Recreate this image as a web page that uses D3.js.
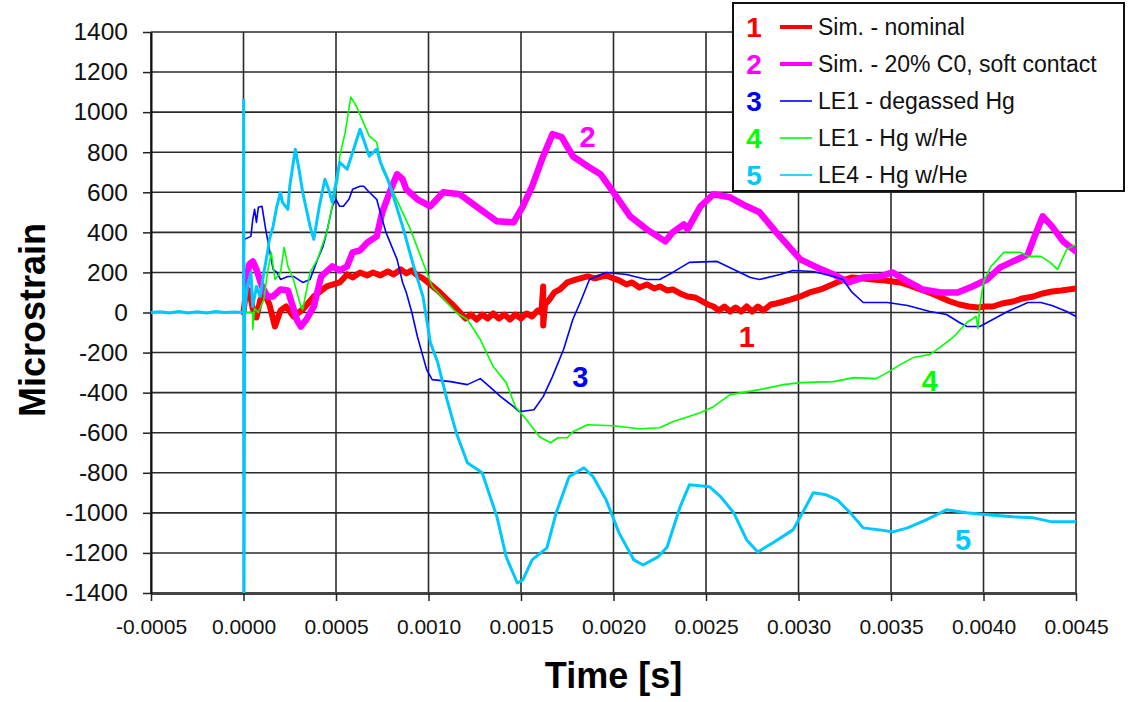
<!DOCTYPE html>
<html>
<head>
<meta charset="utf-8">
<script src="https://cdnjs.cloudflare.com/ajax/libs/d3/7.8.5/d3.min.js"></script>
<style>
  body { margin: 0; background: #fff; }
  text { font-family: "Liberation Sans", Arial, sans-serif; }
</style>
</head>
<body>
<script>
// time in seconds, strain in microstrain
const xTicks = [-0.0005, 0, 0.0005, 0.001, 0.0015, 0.002, 0.0025, 0.003, 0.0035, 0.004, 0.0045];
const yTicks = [-1400, -1200, -1000, -800, -600, -400, -200, 0, 200, 400, 600, 800, 1000, 1200, 1400];

const seriesNames = ["Sim. - nominal", "Sim. - 20% C0, soft contact", "LE1 - degassed Hg", "LE1 - Hg w/He", "LE4 - Hg w/He"];

const simNominal = [[0,0],[0.00001,80],[0.00003,110],[0.00005,20],[0.00007,-25],[0.00009,60],[0.00011,100],[0.00014,40],[0.00017,-70],[0.00020,10],[0.00023,30],[0.00027,-20],[0.00032,15],[0.00038,80],[0.00045,130],[0.00052,150],[0.00056,190],[0.00059,175],[0.00063,200],[0.00067,185],[0.00070,200],[0.00074,185],[0.00078,205],[0.00081,190],[0.00085,215],[0.00088,195],[0.00091,210],[0.00094,185],[0.00097,170],[0.00101,140],[0.00105,110],[0.00110,65],[0.00114,30],[0.00117,0],[0.00120,-30],[0.00123,-10],[0.00126,-35],[0.00129,-10],[0.00132,-30],[0.00135,-5],[0.00138,-30],[0.00141,-10],[0.00144,-35],[0.00147,-10],[0.00150,-30],[0.00153,-5],[0.00156,-20],[0.00159,10],[0.00161,0],[0.00162,130],[0.00162,-65],[0.00163,40],[0.00165,60],[0.00168,100],[0.00171,115],[0.00175,150],[0.00180,165],[0.00186,180],[0.00190,170],[0.00196,185],[0.00200,170],[0.00203,160],[0.00207,140],[0.00210,150],[0.00214,125],[0.00218,140],[0.00222,120],[0.00225,130],[0.00229,110],[0.00232,115],[0.00236,95],[0.00240,80],[0.00244,75],[0.00247,60],[0.00251,40],[0.00254,30],[0.00257,10],[0.00260,30],[0.00263,5],[0.00266,25],[0.00269,5],[0.00272,30],[0.00275,5],[0.00278,30],[0.00281,10],[0.00285,40],[0.00288,45],[0.00292,55],[0.00296,65],[0.00301,80],[0.00306,100],[0.00312,115],[0.00317,135],[0.00322,155],[0.00329,175],[0.00335,170],[0.00340,165],[0.00347,160],[0.00355,150],[0.00360,135],[0.00366,115],[0.00372,95],[0.00377,75],[0.00382,55],[0.00387,40],[0.00392,30],[0.00397,25],[0.00401,30],[0.00405,30],[0.00410,45],[0.00416,55],[0.00421,70],[0.00427,80],[0.00432,95],[0.00437,105],[0.00442,110],[0.00450,120]];

const simSoft = [[0.00001,100],[0.00003,240],[0.00005,255],[0.00007,215],[0.00010,130],[0.00013,80],[0.00016,80],[0.00020,115],[0.00024,110],[0.00026,50],[0.00029,-40],[0.00031,-70],[0.00034,-35],[0.00038,30],[0.00042,180],[0.00048,230],[0.00052,210],[0.00056,230],[0.00059,300],[0.00063,310],[0.00067,350],[0.00072,380],[0.00075,500],[0.00079,600],[0.00083,690],[0.00086,665],[0.00088,615],[0.00094,565],[0.00101,530],[0.00108,600],[0.00117,590],[0.00128,515],[0.00137,455],[0.00146,450],[0.00151,530],[0.00156,630],[0.00162,780],[0.00167,890],[0.00172,875],[0.00178,780],[0.00186,730],[0.00193,690],[0.00200,600],[0.00209,480],[0.00218,415],[0.00228,355],[0.00232,400],[0.00238,440],[0.00240,415],[0.00247,530],[0.00254,590],[0.00263,575],[0.00272,530],[0.00279,500],[0.00288,400],[0.00301,265],[0.00310,225],[0.00319,190],[0.00327,150],[0.00335,175],[0.00344,180],[0.00351,200],[0.00359,155],[0.00367,115],[0.00377,100],[0.00386,100],[0.00394,130],[0.00402,165],[0.00409,225],[0.00416,255],[0.00424,290],[0.00427,365],[0.00432,480],[0.00437,430],[0.00443,355],[0.00450,305]];

const le1Degassed = [[0,0],[0.000005,365],[0.00004,380],[0.00005,465],[0.00006,515],[0.00007,450],[0.00008,525],[0.00010,530],[0.00012,415],[0.00013,365],[0.00016,215],[0.00018,200],[0.00020,165],[0.00024,180],[0.00027,180],[0.00032,150],[0.00036,165],[0.00040,265],[0.00043,330],[0.00045,400],[0.00048,530],[0.00050,565],[0.00052,530],[0.00054,530],[0.00057,565],[0.00059,615],[0.00063,630],[0.00065,630],[0.00068,600],[0.00072,565],[0.00073,530],[0.00077,400],[0.00083,265],[0.00086,150],[0.00088,100],[0.00091,0],[0.00094,-120],[0.00099,-285],[0.00102,-335],[0.00112,-345],[0.00121,-360],[0.00128,-330],[0.00133,-370],[0.00139,-420],[0.00146,-470],[0.00149,-495],[0.00157,-485],[0.00162,-420],[0.00167,-320],[0.00173,-185],[0.00178,-35],[0.00182,50],[0.00187,165],[0.00196,200],[0.00207,190],[0.00218,165],[0.00225,165],[0.00232,200],[0.00241,250],[0.00256,255],[0.00265,215],[0.00274,175],[0.00279,165],[0.00290,190],[0.00297,210],[0.00308,205],[0.00319,180],[0.00324,165],[0.00329,100],[0.00335,50],[0.00348,50],[0.00359,35],[0.00371,5],[0.00380,-10],[0.00387,-50],[0.00391,-70],[0.00398,-70],[0.00405,-35],[0.00413,5],[0.00424,50],[0.00431,50],[0.00437,35],[0.00445,5],[0.00450,-20]];

const le1He = [[0,0],[0.00005,0],[0.00005,-85],[0.00006,20],[0.00008,0],[0.00011,65],[0.00013,200],[0.00015,300],[0.00017,165],[0.00020,200],[0.00022,325],[0.00024,230],[0.00027,165],[0.00031,30],[0.00032,15],[0.00036,200],[0.00040,265],[0.00045,400],[0.00051,665],[0.00052,780],[0.00055,900],[0.00058,1075],[0.00061,1030],[0.00064,965],[0.00068,880],[0.00072,850],[0.00075,715],[0.00081,600],[0.00090,420],[0.00097,250],[0.00102,130],[0.00110,50],[0.00115,0],[0.00121,-35],[0.00128,-135],[0.00135,-270],[0.00142,-350],[0.00147,-470],[0.00153,-535],[0.00160,-620],[0.00166,-650],[0.00170,-625],[0.00175,-625],[0.00178,-595],[0.00186,-560],[0.00200,-565],[0.00214,-580],[0.00225,-575],[0.00232,-545],[0.00247,-500],[0.00254,-470],[0.00263,-410],[0.00279,-385],[0.00292,-360],[0.00301,-350],[0.00319,-345],[0.00330,-325],[0.00342,-330],[0.00348,-300],[0.00355,-260],[0.00362,-225],[0.00371,-210],[0.00377,-170],[0.00384,-120],[0.00391,-50],[0.00396,-20],[0.00397,-80],[0.00398,30],[0.00400,150],[0.00404,230],[0.00409,280],[0.00411,300],[0.00420,300],[0.00424,280],[0.00431,280],[0.00436,250],[0.00440,215],[0.00445,315],[0.00450,340]];

const le4He = [[-0.0005,0],[-0.00045,4],[-0.0004,-3],[-0.00035,5],[-0.0003,-2],[-0.00025,4],[-0.0002,-3],[-0.00015,5],[-0.0001,0],[-0.00005,3],[0,0],[0.000001,1060],[0.000003,-1400],[0.000006,0],[0.00002,130],[0.00004,200],[0.00005,30],[0.00007,130],[0.00009,80],[0.00011,200],[0.00013,300],[0.00014,365],[0.00016,430],[0.00018,530],[0.00020,600],[0.00021,550],[0.00024,515],[0.00025,630],[0.00028,815],[0.00030,715],[0.00032,600],[0.00036,430],[0.00038,365],[0.00041,530],[0.00044,665],[0.00046,615],[0.00048,550],[0.00052,750],[0.00056,715],[0.00059,800],[0.00063,915],[0.00068,780],[0.00072,815],[0.00074,750],[0.00078,665],[0.00081,580],[0.00086,430],[0.00092,230],[0.00097,80],[0.00101,-150],[0.00105,-250],[0.00110,-435],[0.00115,-600],[0.00121,-750],[0.00129,-800],[0.00137,-1020],[0.00142,-1220],[0.00148,-1350],[0.00151,-1335],[0.00156,-1235],[0.00164,-1175],[0.00169,-1000],[0.00176,-820],[0.00184,-775],[0.00189,-820],[0.00196,-935],[0.00203,-1100],[0.00211,-1235],[0.00216,-1260],[0.00224,-1220],[0.00229,-1170],[0.00236,-970],[0.00241,-860],[0.00252,-870],[0.00258,-920],[0.00265,-1000],[0.00272,-1135],[0.00278,-1195],[0.00286,-1150],[0.00297,-1085],[0.00301,-1020],[0.00308,-900],[0.00315,-910],[0.00321,-935],[0.00328,-1000],[0.00335,-1075],[0.00344,-1085],[0.00351,-1095],[0.00359,-1075],[0.00369,-1035],[0.00380,-985],[0.00391,-1000],[0.00402,-1010],[0.00416,-1020],[0.00427,-1025],[0.00437,-1045],[0.00450,-1045]];

// curve number labels placed in data units
const curveLabels = [[0.00272,-120],[0.00186,880],[0.00182,-320],[0.00371,-340],[0.00389,-1135]];

const allSeries = [simNominal, simSoft, le1Degassed, le1He, le4He];
const colors = ["#ff0000", "#ff00ff", "#0000ff", "#00ff00", "#00c8ff"];
const widths = [6, 6.5, 1.6, 1.6, 3];

const w = 1128, h = 702;
const mLeft = 151, mRight = 1076, mTop = 32, mBottom = 593;

const x = d3.scaleLinear().domain([-0.0005, 0.0045]).range([mLeft, mRight]);
const y = d3.scaleLinear().domain([-1400, 1400]).range([mBottom, mTop]);

const svg = d3.select("body").append("svg")
  .attr("width", w)
  .attr("height", h);

// grid
svg.append("g")
  .selectAll("line")
  .data(yTicks)
  .enter().append("line")
  .attr("x1", mLeft).attr("x2", mRight)
  .attr("y1", d => y(d)).attr("y2", d => y(d))
  .style("stroke", "#2a2a2a").style("stroke-width", 1.6);

svg.append("g")
  .selectAll("line")
  .data(xTicks)
  .enter().append("line")
  .attr("x1", d => x(d)).attr("x2", d => x(d))
  .attr("y1", mTop).attr("y2", mBottom)
  .style("stroke", "#2a2a2a").style("stroke-width", 1.6);

// axes
const xAxis = d3.axisBottom(x).tickValues(xTicks).tickFormat(d => d.toFixed(4)).tickSize(8).tickSizeOuter(0);
const gx = svg.append("g")
  .attr("transform", "translate(0," + mBottom + ")")
  .call(xAxis);
gx.select(".domain").style("stroke", "#444").style("stroke-width", 3);
gx.selectAll(".tick line").style("stroke", "#222").style("stroke-width", 1.5);
gx.selectAll("text")
  .attr("y", 26)
  .style("font-size", "21px")
  .style("fill", "#111");

const yAxis = d3.axisLeft(y).tickValues(yTicks).tickFormat(d => String(d)).tickSize(8).tickSizeOuter(0);
const gy = svg.append("g")
  .attr("transform", "translate(" + mLeft + ",0)")
  .call(yAxis);
gy.select(".domain").style("stroke", "#111").style("stroke-width", 2);
gy.selectAll(".tick line").style("stroke", "#222").style("stroke-width", 1.5);
gy.selectAll("text")
  .attr("x", -23)
  .style("font-size", "24.5px")
  .style("fill", "#111");

svg.append("text")
  .attr("x", (mLeft + mRight) / 2)
  .attr("y", 688)
  .attr("text-anchor", "middle")
  .style("font-size", "36px")
  .style("font-weight", "bold")
  .text("Time [s]");

svg.append("text")
  .attr("transform", "translate(45,320) rotate(-90)")
  .attr("text-anchor", "middle")
  .style("font-size", "36px")
  .style("font-weight", "bold")
  .text("Microstrain");

// lines
svg.append("clipPath").attr("id", "plot")
  .append("rect")
  .attr("x", mLeft).attr("y", mTop - 2)
  .attr("width", mRight - mLeft).attr("height", mBottom - mTop + 2);

const line = d3.line().x(d => x(d[0])).y(d => y(d[1]));

const order = [0, 1, 2, 3, 4];
svg.append("g").attr("clip-path", "url(#plot)")
  .selectAll("path")
  .data(order)
  .enter().append("path")
  .attr("d", i => line(allSeries[i]))
  .style("fill", "none")
  .style("stroke", i => colors[i])
  .style("stroke-width", i => widths[i])
  .style("stroke-linejoin", "round")
  .style("stroke-linecap", "round");

// curve numbers
svg.selectAll("text.curve")
  .data(curveLabels)
  .enter().append("text")
  .attr("class", "curve")
  .attr("x", d => x(d[0]))
  .attr("y", d => y(d[1]))
  .attr("dy", "0.36em")
  .attr("text-anchor", "middle")
  .style("font-size", "29px")
  .style("font-weight", "bold")
  .style("fill", (d, i) => colors[i])
  .text((d, i) => i + 1);

// legend
const legend = svg.append("g").attr("id", "legend");
legend.append("rect")
  .attr("x", 733).attr("y", 3)
  .attr("width", 391).attr("height", 188)
  .style("fill", "#fff")
  .style("stroke", "#111")
  .style("stroke-width", 2);

const rows = legend.selectAll("g.row")
  .data(seriesNames)
  .enter().append("g")
  .attr("transform", (d, i) => "translate(0," + (27 + i * 37) + ")");

rows.append("text")
  .attr("x", 754)
  .attr("dy", "0.36em")
  .attr("text-anchor", "middle")
  .style("font-size", "28px")
  .style("font-weight", "bold")
  .style("fill", (d, i) => colors[i])
  .text((d, i) => i + 1);

rows.append("line")
  .attr("x1", 780).attr("x2", 812)
  .style("stroke", (d, i) => colors[i])
  .style("stroke-width", (d, i) => i < 2 ? 4 : 1.6);

rows.append("text")
  .attr("x", 818)
  .attr("dy", "0.35em")
  .style("font-size", "23px")
  .style("fill", "#111")
  .text(d => d);
</script>
</body>
</html>
